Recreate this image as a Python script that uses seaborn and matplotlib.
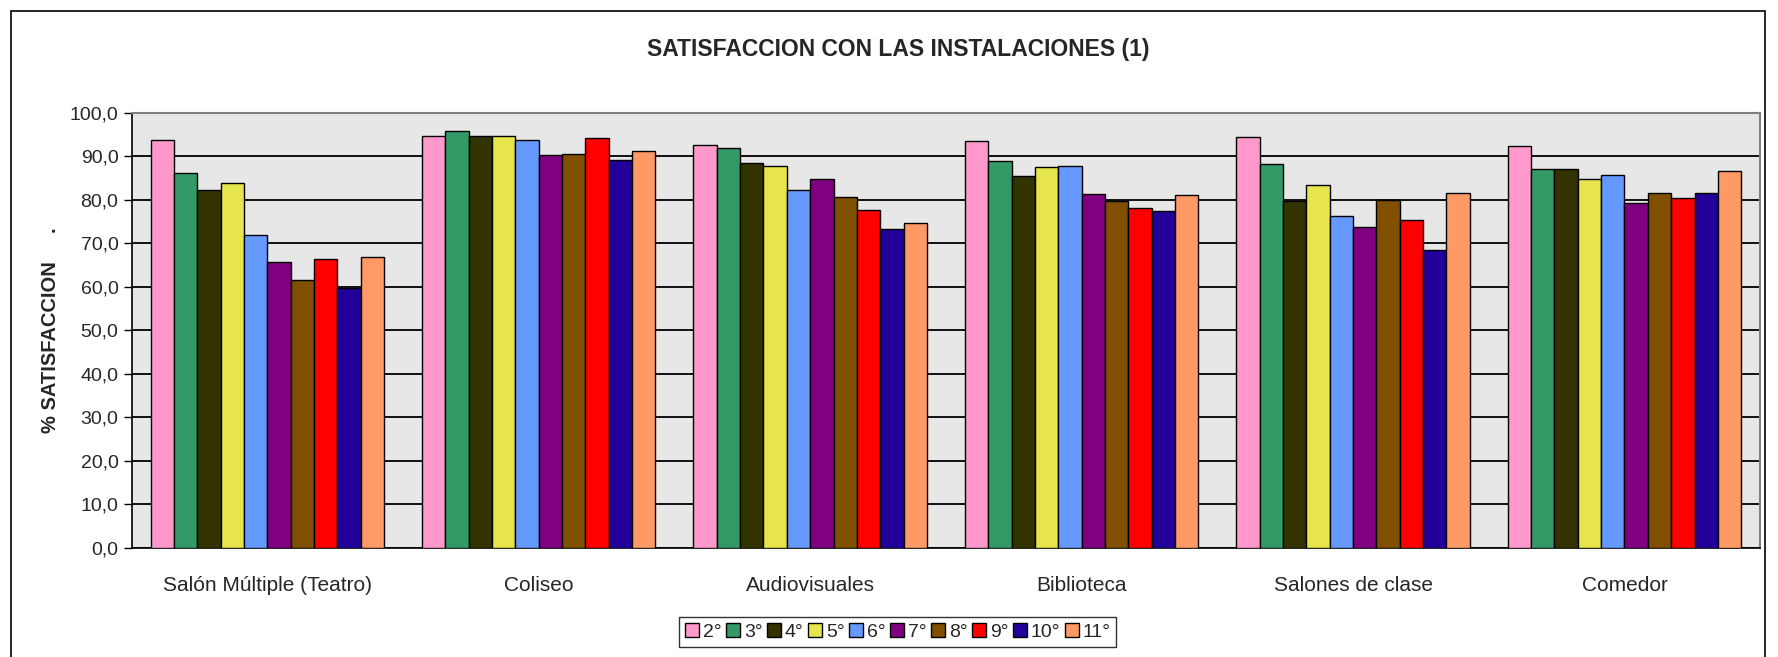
import pandas as pd
import matplotlib.pyplot as plt
import seaborn as sns
from matplotlib.patches import Rectangle
from matplotlib.ticker import FuncFormatter, FixedLocator

# datos
categorias = ['Salón Múltiple (Teatro)', 'Coliseo', 'Audiovisuales',
              'Biblioteca', 'Salones de clase', 'Comedor']
grados = ['2°', '3°', '4°', '5°', '6°', '7°', '8°', '9°', '10°', '11°']

salon_multiple = [93.8, 86.1, 82.4, 84.0, 72.0, 65.8, 61.6, 66.4, 59.7, 67.0]
coliseo = [94.8, 95.9, 94.6, 94.8, 93.8, 90.3, 90.6, 94.2, 89.3, 91.3]
audiovisuales = [92.6, 92.0, 88.6, 87.9, 82.4, 84.8, 80.6, 77.8, 73.3, 74.8]
biblioteca = [93.5, 89.0, 85.5, 87.6, 87.9, 81.3, 79.8, 78.2, 77.5, 81.2]
salones_clase = [94.5, 88.2, 79.8, 83.4, 76.4, 73.8, 79.9, 75.4, 68.5, 81.7]
comedor = [92.4, 87.1, 87.2, 84.8, 85.7, 79.2, 81.7, 80.4, 81.7, 86.7]

colores = ['#FF99CC', '#339966', '#333300', '#E6E64C', '#6699FF',
           '#800080', '#805000', '#FF0000', '#220099', '#FF9966']

series = [salon_multiple, coliseo, audiovisuales, biblioteca, salones_clase, comedor]
filas = []
for cat, vals in zip(categorias, series):
    for g, v in zip(grados, vals):
        filas.append({'Instalacion': cat, 'Grado': g, 'Valor': v})
df = pd.DataFrame(filas)

sns.set_style('white')
plt.rcParams['font.family'] = ['Liberation Sans', 'DejaVu Sans']

fig = plt.figure(figsize=(17.78, 6.57), dpi=100)
ax = fig.add_axes([0.074, 0.166, 0.916, 0.662])

# marco exterior del grafico
fig.patches.append(Rectangle((11 / 1778, -0.1), (1765 - 11) / 1778, 1.1 - 11 / 657,
                             transform=fig.transFigure, fill=False,
                             edgecolor='black', linewidth=1.2, zorder=0))

ax.set_facecolor('#E7E7E7')
sns.barplot(data=df, x='Instalacion', y='Valor', hue='Grado', order=categorias,
            hue_order=grados, palette=colores, width=0.86, gap=0,
            edgecolor='black', linewidth=1.0, saturation=1, ax=ax, zorder=3)

ax.set_ylim(0, 100)
ax.set_xlim(-0.5, len(categorias) - 0.5)
ax.set_yticks(range(0, 101, 10))
ax.yaxis.set_major_formatter(FuncFormatter(lambda v, p: f'{v:.1f}'.replace('.', ',')))
ax.yaxis.grid(True, color='black', linewidth=1.3, zorder=0)
ax.set_axisbelow(True)

ax.xaxis.set_minor_locator(FixedLocator([i - 0.5 for i in range(len(categorias) + 1)]))
ax.tick_params(axis='x', which='major', length=0, pad=20, labelsize=15)
ax.tick_params(axis='x', which='minor', length=8, width=1, direction='out', color='black')
ax.tick_params(axis='y', length=6, width=1, direction='out', left=True, color='black',
               labelsize=14)

for s in ['left', 'bottom']:
    ax.spines[s].set_color('black')
    ax.spines[s].set_linewidth(1.2)
for s in ['top', 'right']:
    ax.spines[s].set_color('#808080')
    ax.spines[s].set_linewidth(1.5)

ax.set_xlabel('')
ax.set_ylabel('% SATISFACCION     .', fontsize=14.5, fontweight='bold')
ax.yaxis.set_label_coords(-0.044, 0.5)
fig.text(0.505, 0.925, 'SATISFACCION CON LAS INSTALACIONES (1)', ha='center', va='center',
         fontsize=16.5, fontweight='bold')

ax.legend(loc='center', bbox_to_anchor=(0.505, 0.038), bbox_transform=fig.transFigure,
          ncol=10, frameon=True, fancybox=False, edgecolor='black', fontsize=14,
          handlelength=0.7, handleheight=0.7, handletextpad=0.2, columnspacing=0.25,
          borderpad=0.3, title=None)
ax.get_legend().get_frame().set_linewidth(1.0)

plt.savefig('out.png', dpi=100)
